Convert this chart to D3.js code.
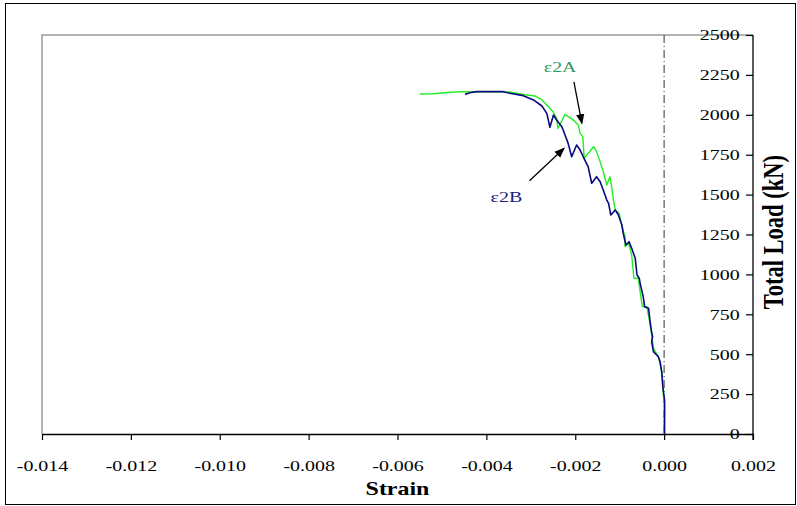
<!DOCTYPE html>
<html>
<head>
<meta charset="utf-8">
<script src="https://cdn.jsdelivr.net/npm/d3@7"></script>
<style>
  html, body { margin: 0; padding: 0; background: #fff; }
  svg { display: block; }
  text { font-family: "Liberation Serif", "Times New Roman", serif; }
</style>
</head>
<body>
<svg id="chart" width="797" height="506"></svg>
<script>
// ---- data (strain, total load kN) ----
const strainA = [-0.00550,-0.00521,-0.00478,-0.00453,-0.00347,-0.00313,-0.00291,-0.00275,-0.00264,-0.00250,-0.00242,-0.00239,-0.00223,-0.00204,-0.00193,-0.00189,-0.00183,-0.00182,-0.00180,-0.00159,-0.00152,-0.00144,-0.00137,-0.00131,-0.00129,-0.00122,-0.00118,-0.00114,-0.00110,-0.00101,-0.00095,-0.00088,-0.00088,-0.00080,-0.00073,-0.00068,-0.00058,-0.00054,-0.00049,-0.00039,-0.00032,-0.00028,-0.00024,-0.00013,-0.00005,-0.00002,0.00001,0.00000];
const loadA   = [2130,2132,2141,2145,2143,2126,2118,2093,2062,2019,1980,1915,2003,1967,1936,1884,1863,1821,1727,1800,1769,1706,1644,1581,1560,1612,1549,1466,1404,1383,1299,1236,1174,1195,1122,976,976,892,798,798,694,620,537,484,390,255,171,0];

const strainB = [-0.00448,-0.00437,-0.00422,-0.00362,-0.00347,-0.00317,-0.00294,-0.00275,-0.00264,-0.00257,-0.00249,-0.00242,-0.00230,-0.00223,-0.00216,-0.00208,-0.00197,-0.00189,-0.00182,-0.00171,-0.00163,-0.00152,-0.00144,-0.00137,-0.00129,-0.00125,-0.00120,-0.00110,-0.00103,-0.00095,-0.00092,-0.00086,-0.00079,-0.00073,-0.00065,-0.00061,-0.00056,-0.00054,-0.00047,-0.00044,-0.00035,-0.00032,-0.00029,-0.00026,-0.00028,-0.00024,-0.00013,-0.00009,-0.00005,-0.00003,0.00001,0.00001];
const loadB   = [2128,2138,2145,2145,2135,2120,2093,2055,2009,1922,1999,1967,1925,1873,1821,1737,1811,1779,1737,1675,1571,1612,1581,1529,1466,1445,1372,1404,1372,1310,1257,1184,1205,1164,1101,996,976,944,860,798,788,714,652,610,578,516,484,453,380,296,213,0];

const xTicks = [-0.014,-0.012,-0.010,-0.008,-0.006,-0.004,-0.002,0.000,0.002];
const yTicks = [0,250,500,750,1000,1250,1500,1750,2000,2250,2500];
const xTitle = "Strain";
const yTitle = "Total Load (kN)";
const seriesNames = ["\u03b52A", "\u03b52B"];
// annotation anchors in data units: [textX, textY, arrowFromX, arrowFromY, arrowToX, arrowToY]
const annotA = [-0.00234, 2268, -0.00203, 2207, -0.00185, 1946];
const annotB = [-0.00355, 1454, -0.00303, 1587, -0.00225, 1790];

// ---- drawing ----
const svg = d3.select("#chart");
const SX = 1.33; // horizontal text stretch seen in reference
const x = d3.scaleLinear().domain([-0.014, 0.002]).range([42, 753]);
const y = d3.scaleLinear().domain([0, 2500]).range([434, 35]);

// outer frame
svg.append("rect").attr("x", 5.5).attr("y", 3.5).attr("width", 790).attr("height", 501)
  .attr("fill", "none").attr("stroke", "#000").attr("stroke-width", 1);

// plot-area gray frame (top & left)
svg.append("path")
  .attr("d", `M${x(-0.014)},${y(0)}V${y(2500)}H${x(0.002)}`)
  .attr("fill", "none").attr("stroke", "#9a9a9a").attr("stroke-width", 1.5);

// x = 0 dash-dot line
svg.append("line")
  .attr("x1", x(0)).attr("x2", x(0)).attr("y1", y(2500)).attr("y2", y(0))
  .attr("stroke", "#555").attr("stroke-width", 1.2).attr("stroke-dasharray", "8,3,1,3");

// x axis
const gx = svg.append("g").attr("transform", `translate(0,${y(0)})`)
  .call(d3.axisBottom(x).tickValues(xTicks).tickSize(6).tickSizeOuter(0).tickPadding(20)
    .tickFormat(d => d.toFixed(3)));
gx.select(".domain").attr("stroke", "#000").attr("stroke-width", 1.3);
gx.selectAll(".tick line").attr("stroke", "#000").attr("stroke-width", 1.2);
gx.selectAll(".tick text").attr("font-size", 15).attr("fill", "#000")
  .attr("font-family", "Liberation Serif").attr("transform", `scale(${SX},1)`);

// y axis on right
const gy = svg.append("g").attr("transform", `translate(${x(0.002)},0)`)
  .call(d3.axisLeft(y).tickValues(yTicks).tickSize(7).tickSizeOuter(0).tickPadding(3)
    .tickFormat(d3.format("d")));
gy.select(".domain").attr("stroke", "#000").attr("stroke-width", 1.3)
  .attr("d", `M0,${y(2500)}V${y(0) + 6}`);
gy.selectAll(".tick line").attr("stroke", "#000").attr("stroke-width", 1.2);
gy.selectAll(".tick text").attr("font-size", 15).attr("fill", "#000")
  .attr("font-family", "Liberation Serif").attr("transform", `scale(${SX},1)`);

// axis titles
svg.append("text").attr("transform", `translate(${x(-0.0060)},495) scale(${SX},1)`)
  .attr("text-anchor", "middle").attr("font-size", 18).attr("font-weight", "bold").text(xTitle);
svg.append("text").attr("transform", `translate(783,${y(1265)}) scale(${SX},1) rotate(-90)`)
  .attr("text-anchor", "middle").attr("font-size", 22.5).attr("font-weight", "bold").text(yTitle);

// series
const line = d3.line().x(d => x(d[0])).y(d => y(d[1]));
const dataA = strainA.map((s, i) => [s, loadA[i]]);
const dataB = strainB.map((s, i) => [s, loadB[i]]);
svg.append("path").datum(dataA).attr("d", line)
  .attr("fill", "none").attr("stroke", "#22ee22").attr("stroke-width", 1.4).attr("stroke-linejoin", "round");
svg.append("path").datum(dataB).attr("d", line)
  .attr("fill", "none").attr("stroke", "#0a0a80").attr("stroke-width", 1.6).attr("stroke-linejoin", "round");

// arrow marker
svg.append("defs").append("marker").attr("id", "arr")
  .attr("viewBox", "0 0 10 10").attr("refX", 9).attr("refY", 5)
  .attr("markerWidth", 8).attr("markerHeight", 8).attr("orient", "auto")
  .append("path").attr("d", "M0,1L10,5L0,9Z").attr("fill", "#000");

function annotate(a, label, color) {
  svg.append("text").attr("transform", `translate(${x(a[0])},${y(a[1])}) scale(${SX},1)`)
    .attr("text-anchor", "middle").attr("font-size", 15).attr("fill", color).text(label);
  svg.append("line").attr("x1", x(a[2])).attr("y1", y(a[3])).attr("x2", x(a[4])).attr("y2", y(a[5]))
    .attr("stroke", "#000").attr("stroke-width", 1.3).attr("marker-end", "url(#arr)");
}
annotate(annotA, seriesNames[0], "#2f9a62");
annotate(annotB, seriesNames[1], "#1a1a80");
</script>
</body>
</html>
